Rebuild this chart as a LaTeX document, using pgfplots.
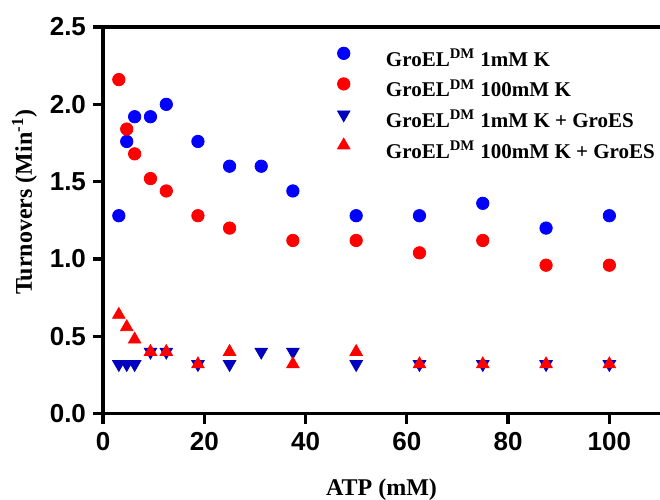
\documentclass[border=0pt]{standalone}
\usepackage{fontspec}
\setmainfont{Liberation Serif}
\setsansfont{Liberation Sans}
\usepackage{pgfplots}
\pgfplotsset{compat=1.18}
\definecolor{cblue}{RGB}{0,0,255}
\definecolor{cred}{RGB}{255,0,0}
\definecolor{tblue}{RGB}{0,0,190}
\begin{document}
\begin{tikzpicture}
\begin{axis}[name=ax,
  scale only axis, width=278.5bp, height=193.35bp,
  xmin=0, xmax=110, ymin=0, ymax=2.5,
  axis x line*=bottom, axis y line*=left,
  xtick pos=left, ytick pos=left,
  axis line style={line width=1.65bp, -},
  xtick={0,20,40,60,80,100}, ytick={0,0.5,1,1.5,2,2.5},
  minor tick num=0,
  tick align=outside, major tick length=5bp,
  tick style={line width=1.65bp, black},
  /pgf/number format/assume math mode=true,
  ticklabel style={font=\sffamily\bfseries\fontsize{13bp}{15bp}\selectfont},
  yticklabel style={/pgf/number format/.cd, fixed, fixed zerofill, precision=1},
  xticklabel style={yshift=-1bp},
  xlabel={ATP (mM)},
  ylabel={Turnovers (Min\textsuperscript{-1})},
  label style={font=\bfseries\fontsize{12bp}{14bp}\selectfont},
  xlabel style={at={(axis description cs:0.5,-0.196)}, anchor=center},
  ylabel style={at={(axis description cs:-0.141,0.547)}, anchor=center},
  clip=false,
  legend cell align=left,
  legend style={at={(axis description cs:0.421,0.95)}, anchor=north west,
    draw=none, fill=none, inner sep=0pt, outer sep=0pt,
    row sep=2.3bp,
    font=\bfseries\fontsize{10.5bp}{12bp}\selectfont,
    nodes={inner sep=0pt, text height=10bp, text depth=3bp},
    /tikz/every odd column/.append style={column sep=18bp}},
  legend image post style={yshift=3bp},
]
\addplot[only marks, mark=*, mark size=3.1bp, color=cblue, mark options={fill=cblue, draw=cblue}] coordinates {
(3.125,1.28) (4.6875,1.76) (6.25,1.92) (9.375,1.92) (12.5,2.0) (18.75,1.76) (25,1.6) (31.25,1.6) (37.5,1.44) (50,1.28) (62.5,1.28) (75,1.36) (87.5,1.2) (100,1.28)};
\addlegendentry{GroEL\textsuperscript{DM} 1mM K}
\addplot[only marks, mark=*, mark size=3.1bp, color=cred, mark options={fill=cred, draw=cred}] coordinates {
(3.125,2.16) (4.6875,1.84) (6.25,1.68) (9.375,1.52) (12.5,1.44) (18.75,1.28) (25,1.2) (37.5,1.12) (50,1.12) (62.5,1.04) (75,1.12) (87.5,0.96) (100,0.96)};
\addlegendentry{GroEL\textsuperscript{DM} 100mM K}
\addplot[only marks, mark=triangle*, mark size=3.6bp, color=tblue, mark options={fill=tblue, draw=tblue, rotate=180}] coordinates {
(3.125,0.32) (4.6875,0.32) (6.25,0.32) (9.375,0.4) (12.5,0.4) (18.75,0.32) (25,0.32) (31.25,0.4) (37.5,0.4) (50,0.32) (62.5,0.32) (75,0.32) (87.5,0.32) (100,0.32)};
\addlegendentry{GroEL\textsuperscript{DM} 1mM K + GroES}
\addplot[only marks, mark=triangle*, mark size=3.6bp, color=cred, mark options={fill=cred, draw=cred}] coordinates {
(3.125,0.64) (4.6875,0.56) (6.25,0.48) (9.375,0.4) (12.5,0.4) (18.75,0.32) (25,0.4) (37.5,0.32) (50,0.4) (62.5,0.32) (75,0.32) (87.5,0.32) (100,0.32)};
\addlegendentry{GroEL\textsuperscript{DM} 100mM K + GroES}
\draw[line width=1.65bp] (rel axis cs:0,1) -- (rel axis cs:1,1);
\end{axis}
\pgfresetboundingbox
\path ([xshift=-51.5bp,yshift=-43.15bp]ax.south west) rectangle ([xshift=278.5bp,yshift=206.85bp]ax.south west);
\end{tikzpicture}
\end{document}
